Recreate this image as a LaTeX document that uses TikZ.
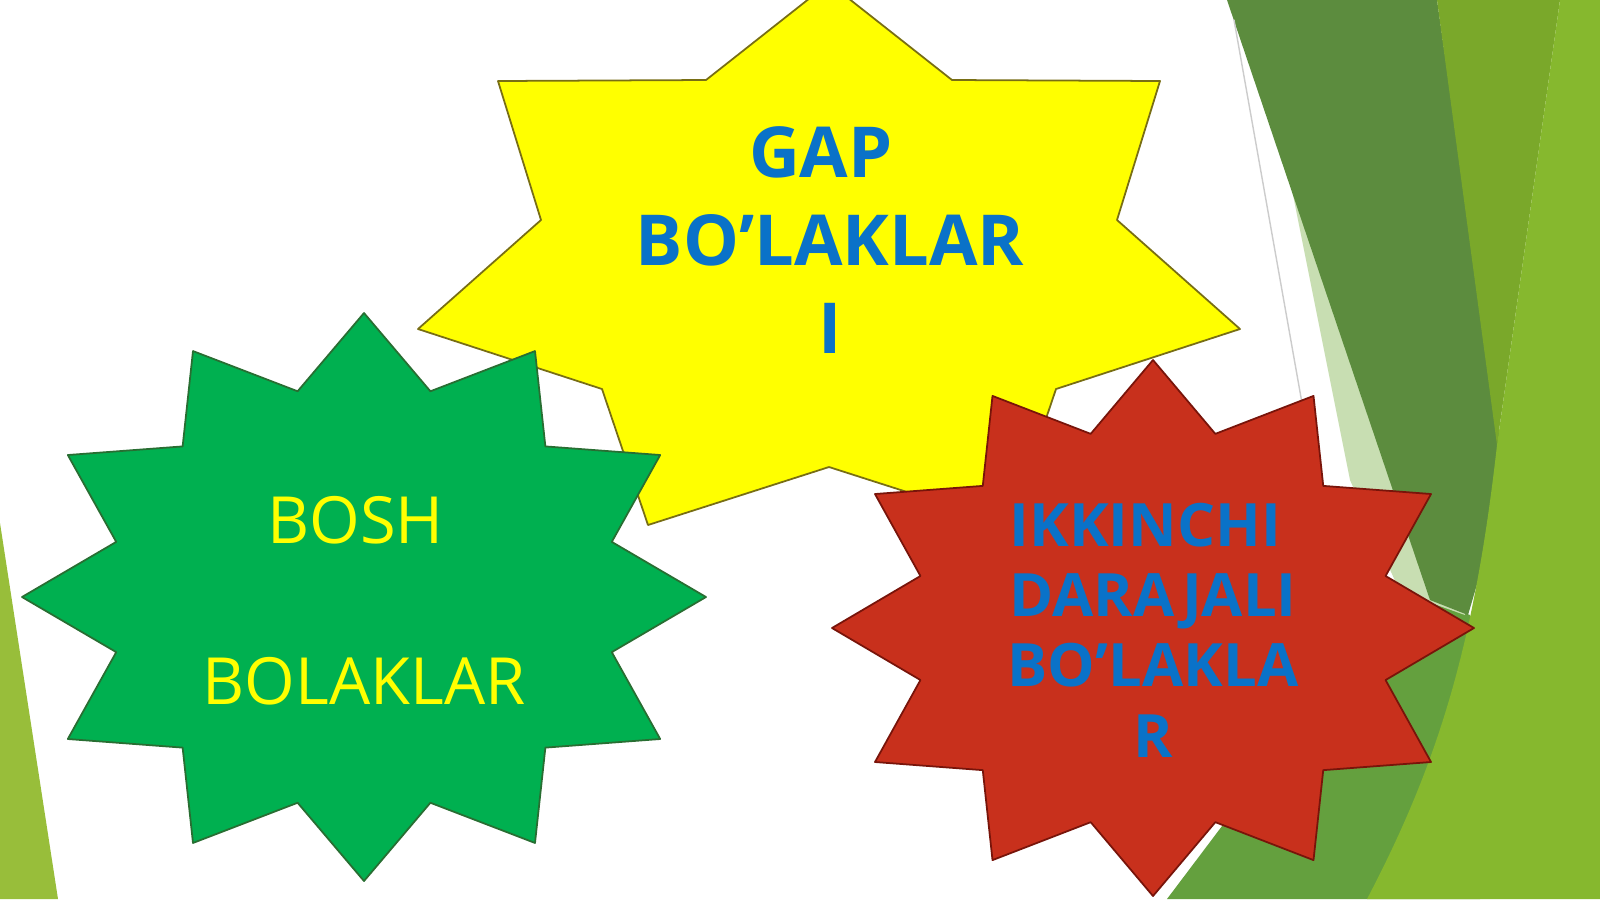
\documentclass[tikz,border=0pt]{standalone}
\usepackage{fontspec}
\setmainfont{Open Sans}
\definecolor{bgdark}{RGB}{92,140,62}
\definecolor{bgmid}{RGB}{122,168,42}
\definecolor{bgbright}{RGB}{134,184,46}
\definecolor{bgmoss}{RGB}{100,160,62}
\definecolor{bgpale}{RGB}{200,222,178}
\definecolor{bgleft}{RGB}{152,190,58}
\definecolor{starYellow}{RGB}{255,255,0}
\definecolor{starGreen}{RGB}{0,176,80}
\definecolor{starRed}{RGB}{200,48,28}
\definecolor{textBlue}{RGB}{10,114,200}
\definecolor{edgeYellow}{RGB}{120,110,20}
\definecolor{edgeGreen}{RGB}{40,110,50}
\definecolor{edgeRed}{RGB}{120,20,10}
\begin{document}
\begin{tikzpicture}[x=0.01cm, y=-0.01cm, line join=round, line cap=round,
	declare function={gx=342; gy=284; rx=321; ry=268; q=0.75;},
	starY/.style={fill=starYellow, draw=edgeYellow, line width=0.5pt},
	starG/.style={fill=starGreen, draw=edgeGreen, line width=0.5pt},
	starR/.style={fill=starRed, draw=edgeRed, line width=0.5pt},
	bluetext/.style={text=textBlue, align=center, inner sep=0pt, anchor=base},
	yellowtext/.style={text=starYellow, align=center, inner sep=0pt, anchor=base}]
	\fill[white] (0,0) rectangle (1600,899);
	\useasboundingbox (0,0) rectangle (1600,899);
	% background bands
	\fill[bgmoss] (1167,899)--(1400,590)--(1470,615)--(1480,899)--cycle;
	\fill[bgpale] (1266,60)--(1350,480)--(1400,592)--(1465,615)--(1437,0)--cycle;
	\fill[bgdark] (1227,0)--(1437,0)--(1500,440)--(1490,540)--(1468,615)--(1430,600)--cycle;
	\fill[bgmid] (1437,0)--(1560,0)--(1497,445)--cycle;
	\fill[bgbright] (1560,0)--(1600,0)--(1600,899)--(1367,899) .. controls (1440,760) and (1475,640) .. (1497,445)--cycle;
	\draw[gray!40, line width=0.4pt] (1234,20)--(1305,420);
	\fill[bgleft] (0,523)--(58,899)--(0,899)--cycle;
	% yellow star
	\path 
	(829,-17) coordinate (T)
	(952,80) coordinate (A)
	(1160,81) coordinate (B)
	(1117,220) coordinate (C)
	(1240,329) coordinate (D)
	(1056,389) coordinate (E)
	(1010,525) coordinate (F)
	(829,467) coordinate (G)
	(648,525) coordinate (H)
	(602,389) coordinate (I)
	(418,329) coordinate (J)
	(541,220) coordinate (K)
	(498,81) coordinate (L)
	(706,80) coordinate (M)
	;
	\draw[starY] (T)--(A)--(B)--(C)--(D)--(E)--(F)--(G)--(H)--(I)--(J)--(K)--(L)--(M)--cycle;
	% green and red stars
	\foreach \i in {0,...,11}{
		\path ({364+gx*cos(90+30*\i)},{597-gy*sin(90+30*\i)}) coordinate (go\i)
		({364+q*gx*cos(105+30*\i)},{597-q*gy*sin(105+30*\i)}) coordinate (gi\i)
		({1153+rx*cos(90+30*\i)},{628-ry*sin(90+30*\i)}) coordinate (ro\i)
		({1153+q*rx*cos(105+30*\i)},{628-q*ry*sin(105+30*\i)}) coordinate (ri\i);
	}
	\draw[starG] (go0) \foreach \i in {0,...,11}{--(go\i)--(gi\i)} --cycle;
	\draw[starR] (ro0) \foreach \i in {0,...,11}{--(ro\i)--(ri\i)} --cycle;
	% labels (base = last line)
	\node[bluetext, font=\fontsize{20}{25}\selectfont\bfseries] (gap) at (830,353) {GAP\hphantom{~}\\BO’LAKLAR\\I};
	\node[yellowtext, font=\fontsize{18.5}{22.8}\selectfont] (bosh) at (364,704) {BOSH\hphantom{~}\\[22.8pt]BOLAKLAR};
	\node[bluetext, font=\fontsize{17}{20}\selectfont\bfseries] (ikkinchi) at (1153,757) {IKKINCHI\hphantom{~}\\DARAJALI\\BO’LAKLA\\R};
\end{tikzpicture}
\end{document}
